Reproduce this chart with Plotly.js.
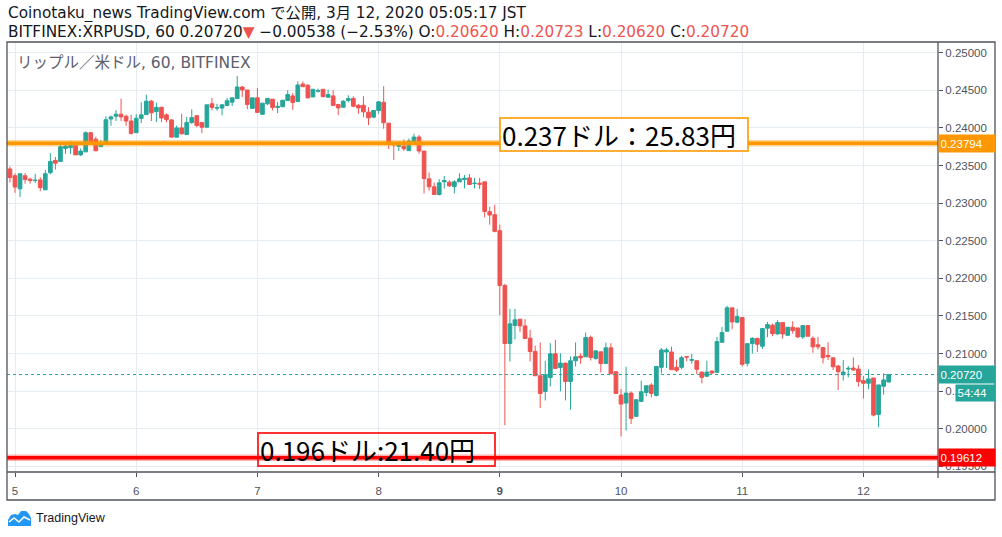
<!DOCTYPE html>
<html><head><meta charset="utf-8">
<script src="https://cdn.plot.ly/plotly-3.0.1.min.js"></script>
<style>html,body{margin:0;padding:0;background:#fff;}#chart{width:1002px;height:537px;}</style>
</head><body><div id="chart"></div>
<script>
// ---- data (hourly candles, BITFINEX XRPUSD, first bar 2020-03-04 23:00) ----
const firstBar = '2020-03-04T23:00:00Z';
const openP = [0.23454,0.23363,0.2319,0.23363,0.23317,0.233,0.23308,0.23176,0.23404,0.23568,0.23554,0.23727,0.23736,0.23768,0.23641,0.23681,0.23936,0.2385,0.2375,0.23809,0.24118,0.24155,0.24182,0.24155,0.24091,0.23936,0.24127,0.24177,0.24355,0.24218,0.24273,0.24173,0.24105,0.23877,0.24,0.23912,0.2407,0.24162,0.2407,0.24009,0.2432,0.24263,0.24263,0.24298,0.24342,0.2439,0.24544,0.24504,0.24259,0.24399,0.2418,0.2432,0.24382,0.24272,0.24281,0.24364,0.24425,0.24351,0.24583,0.24566,0.24412,0.24487,0.24513,0.24408,0.24425,0.2431,0.24275,0.24363,0.2439,0.24301,0.24301,0.24209,0.24143,0.24231,0.24341,0.24063,0.23803,0.23754,0.23759,0.23697,0.2382,0.23878,0.23692,0.23322,0.23216,0.23114,0.23282,0.23278,0.2322,0.23282,0.23313,0.23335,0.2326,0.23264,0.23282,0.22885,0.22845,0.22633,0.21905,0.21133,0.21372,0.21456,0.21367,0.21204,0.21027,0.20704,0.20496,0.20681,0.20996,0.20814,0.20872,0.20628,0.20903,0.20965,0.20956,0.21212,0.20934,0.21022,0.20867,0.21075,0.20757,0.20447,0.20341,0.20473,0.20164,0.20363,0.20482,0.2058,0.20442,0.20816,0.2102,0.2102,0.20816,0.20816,0.20958,0.20909,0.20904,0.20753,0.20696,0.20767,0.20749,0.21149,0.21296,0.21607,0.21416,0.21478,0.20869,0.21131,0.21202,0.21096,0.21336,0.21376,0.2126,0.21411,0.21242,0.21349,0.2134,0.2122,0.21371,0.21203,0.21115,0.21079,0.20974,0.20943,0.20833,0.20718,0.20793,0.20806,0.20793,0.20639,0.20604,0.20674,0.2019,0.20564,0.2062];
const highP = [0.23486,0.23395,0.2339,0.234,0.23336,0.2339,0.23345,0.2344,0.23663,0.23613,0.23782,0.23782,0.23827,0.238,0.23727,0.23955,0.23945,0.23882,0.23841,0.24155,0.24164,0.24237,0.24387,0.24177,0.24173,0.24182,0.24341,0.24441,0.24373,0.24337,0.24282,0.24191,0.24118,0.24031,0.24189,0.24145,0.24246,0.24162,0.2407,0.24307,0.24399,0.2432,0.24307,0.24399,0.24399,0.24689,0.24557,0.24504,0.24399,0.24531,0.24329,0.2439,0.24382,0.24346,0.24368,0.245,0.24461,0.24618,0.24618,0.24583,0.24513,0.24522,0.24513,0.24509,0.245,0.24319,0.24368,0.24434,0.24421,0.24319,0.24421,0.24275,0.24231,0.24354,0.24553,0.24063,0.2382,0.23825,0.23847,0.2386,0.23922,0.23904,0.23692,0.23406,0.23273,0.23317,0.23361,0.23304,0.23304,0.23397,0.23375,0.23388,0.23335,0.23335,0.23282,0.22951,0.22978,0.22713,0.21927,0.21593,0.21593,0.21456,0.21456,0.21314,0.21102,0.21146,0.20903,0.21137,0.21181,0.21004,0.20872,0.2096,0.21146,0.21004,0.21279,0.21239,0.21035,0.21022,0.21146,0.21137,0.20757,0.20527,0.20823,0.20495,0.20385,0.20637,0.20571,0.20606,0.20836,0.21073,0.21073,0.21091,0.20918,0.20971,0.20962,0.20993,0.20904,0.20753,0.20904,0.20767,0.2122,0.21353,0.21633,0.21607,0.21593,0.21487,0.21131,0.21216,0.21202,0.21331,0.2142,0.21398,0.21442,0.21411,0.21349,0.21429,0.2134,0.21371,0.21371,0.21229,0.2122,0.21079,0.2115,0.20943,0.20846,0.20912,0.20833,0.20947,0.20846,0.207,0.20789,0.20674,0.20582,0.20736,0.20723];
const lowP = [0.23272,0.23136,0.23081,0.23258,0.23258,0.23267,0.23158,0.23176,0.23381,0.23445,0.23554,0.23654,0.23654,0.23641,0.23627,0.23681,0.23782,0.23695,0.2375,0.23809,0.24027,0.24091,0.24091,0.24027,0.23909,0.23936,0.24064,0.24177,0.24091,0.24077,0.24077,0.24073,0.23873,0.23873,0.23912,0.23912,0.24053,0.24009,0.2393,0.24009,0.24232,0.24228,0.24167,0.24294,0.2429,0.2439,0.24412,0.2425,0.24259,0.24206,0.2418,0.24303,0.24232,0.24197,0.24276,0.24364,0.24241,0.24351,0.24548,0.2439,0.24408,0.24469,0.24404,0.24399,0.24288,0.24169,0.24266,0.24341,0.24275,0.24187,0.24143,0.24037,0.24134,0.24187,0.23988,0.23719,0.23573,0.23692,0.23692,0.23697,0.23812,0.23657,0.23128,0.23163,0.23114,0.23101,0.23194,0.23216,0.23128,0.23282,0.23194,0.23247,0.23194,0.23185,0.2281,0.22713,0.22611,0.21508,0.20045,0.20894,0.21186,0.21283,0.21199,0.20894,0.20704,0.20274,0.20376,0.20562,0.20801,0.20496,0.20376,0.20252,0.20827,0.20863,0.20956,0.20907,0.20916,0.20748,0.20867,0.2073,0.20465,0.19898,0.19975,0.20062,0.20164,0.20363,0.20429,0.20416,0.20429,0.20736,0.20807,0.20785,0.20753,0.20789,0.20896,0.20864,0.20727,0.20602,0.20696,0.20727,0.20749,0.21149,0.21296,0.21322,0.21402,0.20829,0.20829,0.20998,0.2102,0.2106,0.21216,0.21229,0.21251,0.21198,0.21233,0.21264,0.21207,0.21193,0.21229,0.21009,0.21053,0.20868,0.20912,0.2078,0.20515,0.20639,0.20683,0.20771,0.2056,0.20401,0.20524,0.20163,0.20018,0.20454,0.2062];
const closeP = [0.2334,0.23213,0.2339,0.23313,0.233,0.23304,0.23204,0.2339,0.23554,0.23531,0.2375,0.23759,0.23768,0.23641,0.23691,0.23936,0.23791,0.23695,0.23795,0.24109,0.24146,0.24182,0.24146,0.24091,0.23927,0.24127,0.24173,0.24355,0.242,0.24273,0.24132,0.24109,0.23877,0.24,0.23921,0.2407,0.24136,0.24031,0.24009,0.24307,0.24272,0.24268,0.24307,0.2436,0.24399,0.24544,0.24504,0.24311,0.24399,0.24206,0.24329,0.2439,0.24272,0.24285,0.24368,0.24443,0.24338,0.2457,0.24548,0.24399,0.24513,0.24496,0.24417,0.24443,0.243,0.24266,0.24354,0.2439,0.24288,0.24266,0.24213,0.24134,0.24231,0.24346,0.24068,0.23803,0.23772,0.2379,0.23723,0.23825,0.23878,0.23692,0.23326,0.23216,0.23114,0.23269,0.233,0.23229,0.23282,0.23322,0.2333,0.23247,0.23264,0.23251,0.22889,0.22841,0.22624,0.21905,0.21133,0.21394,0.21447,0.21367,0.21199,0.21027,0.20704,0.20469,0.20717,0.20996,0.20801,0.20872,0.20628,0.20903,0.20956,0.20942,0.21212,0.20947,0.21035,0.20867,0.21075,0.2073,0.20469,0.20327,0.20473,0.20137,0.20385,0.20491,0.20571,0.20469,0.20827,0.21047,0.21047,0.20785,0.20776,0.20944,0.20953,0.20918,0.20789,0.20682,0.20753,0.2074,0.21158,0.21278,0.21607,0.2142,0.21491,0.20856,0.21131,0.21202,0.21122,0.21331,0.21384,0.21264,0.21411,0.2126,0.21349,0.21304,0.2122,0.21371,0.21229,0.21088,0.21088,0.20943,0.20956,0.20824,0.20758,0.20753,0.20802,0.2078,0.20626,0.20604,0.20661,0.20181,0.20582,0.20648,0.2072];

const dayTicks  = ['2020-03-05','2020-03-06','2020-03-07','2020-03-08','2020-03-09','2020-03-10','2020-03-11','2020-03-12'];
const dayLabels = ['5','6','7','8','<b>9</b>','10','11','12'];
const priceTicks = [0.195,0.200,0.205,0.210,0.215,0.220,0.225,0.230,0.235,0.240,0.245,0.250];
const levelPrices = [0.23794, 0.19612];
const levelNotes  = ['0.237ドル：25.83円', '0.196ドル:21.40円'];
const levelColors = ['#ff9800', '#ff0000'];

// hourly timestamps for the bars
const times = openP.map((_, i) => new Date(Date.parse(firstBar) + i * 3600e3).toISOString().slice(0,16).replace('T',' '));
const lastClose = closeP[closeP.length-1];

// ---- layout helpers (pixel -> paper) ----
const PL=7, PR=938, PT=42, PB=472;
const px = x => (x-PL)/(PR-PL);
const py = y => (PB-y)/(PB-PT);

const UP='#26a69a', DOWN='#ef5350', FRAME='#50535e', GRID='#e6edf2';
const trace = {
  type:'candlestick', x:times, open:openP, high:highP, low:lowP, close:closeP,
  increasing:{line:{color:UP,width:1}, fillcolor:UP},
  decreasing:{line:{color:DOWN,width:1}, fillcolor:DOWN},
  whiskerwidth:0, hoverinfo:'skip', showlegend:false
};

const shapes = [
  {type:'line', xref:'paper', x0:0, x1:1, yref:'y', y0:lastClose, y1:lastClose, line:{color:UP, width:1, dash:'dot'}},
  {type:'line', xref:'paper', x0:0, x1:1, yref:'y', y0:levelPrices[0], y1:levelPrices[0], line:{color:'rgba(255,152,0,0.4)', width:6.5}},
  {type:'line', xref:'paper', x0:0, x1:1, yref:'y', y0:levelPrices[0], y1:levelPrices[0], line:{color:levelColors[0], width:3.5}},
  {type:'line', xref:'paper', x0:0, x1:1, yref:'y', y0:levelPrices[1], y1:levelPrices[1], line:{color:'rgba(255,0,0,0.3)', width:6.5}},
  {type:'line', xref:'paper', x0:0, x1:1, yref:'y', y0:levelPrices[1], y1:levelPrices[1], line:{color:levelColors[1], width:3.5}},
  {type:'rect', xref:'paper', yref:'paper', x0:0, x1:px(995), y0:py(500), y1:1, line:{color:FRAME, width:1.3}, layer:'above'},
  {type:'line', xref:'paper', yref:'paper', x0:1, x1:1, y0:py(478), y1:1, line:{color:FRAME, width:1.3}},
  {type:'line', xref:'paper', yref:'paper', x0:0, x1:px(995), y0:0, y1:0, line:{color:FRAME, width:1.3}},
];
const P = (x,y) => px(x)+','+py(y);
shapes.push({type:'path', xref:'paper', yref:'paper',
  path:'M'+P(8,526)+' L'+P(8,520)+' L'+P(11,515)+' L'+P(15,514)+' L'+P(18,515)+' L'+P(21,511)+' L'+P(26,511)+' L'+P(29,514)+' L'+P(31,518)+' L'+P(31,526)+' Z',
  fillcolor:'#2196f3', line:{width:0}});
shapes.push({type:'path', xref:'paper', yref:'paper',
  path:'M'+P(9,522)+' L'+P(14,518)+' L'+P(19,522)+' L'+P(24,517)+' L'+P(30,520),
  line:{color:'#ffffff', width:1.6}});

const HF = 'DejaVu Sans, Noto Sans CJK JP, sans-serif';
const annotations = [
  {xref:'paper', yref:'paper', x:px(6), y:py(13), xanchor:'left', yanchor:'middle', showarrow:false, height:18,
   text:'Coinotaku_news TradingView.com で公開, 3月 12, 2020 05:05:17 JST', font:{family:HF, size:15.3, color:'#131722'}},
  {xref:'paper', yref:'paper', x:px(6), y:py(32), xanchor:'left', yanchor:'middle', showarrow:false, height:18,
   text:'BITFINEX:XRPUSD, 60 '+lastClose.toFixed(5)+'<span style="color:#ef5350">▼</span> −0.00538 (−2.53%) O:<span style="color:#ef5350">'+openP[openP.length-1].toFixed(5)+'</span> H:<span style="color:#ef5350">'+highP[highP.length-1].toFixed(5)+'</span> L:<span style="color:#ef5350">'+lowP[lowP.length-1].toFixed(5)+'</span> C:<span style="color:#ef5350">'+lastClose.toFixed(5)+'</span>',
   font:{family:HF, size:15.3, color:'#131722'}},
  {xref:'paper', yref:'paper', x:px(15), y:py(63), xanchor:'left', yanchor:'middle', showarrow:false,
   text:'リップル／米ドル, 60, BITFINEX', font:{family:HF, size:15.5, color:'#5d606b'}},
  {xref:'paper', yref:'paper', x:px(624), y:py(134.5), xanchor:'center', yanchor:'middle', showarrow:false,
   text:levelNotes[0], font:{family:'Noto Sans CJK JP, sans-serif', size:26, color:'#000'},
   bgcolor:'#ffffff', bordercolor:'rgba(255,152,0,0.8)', borderwidth:2, borderpad:1, width:244, height:29, align:'left'},
  {xref:'paper', yref:'paper', x:px(376.5), y:py(449.5), xanchor:'center', yanchor:'middle', showarrow:false,
   text:levelNotes[1], font:{family:'Noto Sans CJK JP, sans-serif', size:26, color:'#000'},
   bordercolor:'rgba(255,0,0,0.8)', borderwidth:2, borderpad:1, width:233, height:29, align:'left'},
  {xref:'paper', yref:'y', x:1, y:levelPrices[0], xanchor:'left', yanchor:'middle', showarrow:false,
   text:levelPrices[0].toFixed(5), font:{family:'Liberation Sans', size:11.5, color:'#fff'}, bgcolor:levelColors[0], width:53, height:14, borderpad:1.5, align:'left'},
  {xref:'paper', yref:'y', x:1, y:lastClose, xanchor:'left', yanchor:'middle', showarrow:false,
   text:lastClose.toFixed(5), font:{family:'Liberation Sans', size:11.5, color:'#fff'}, bgcolor:UP, width:53, height:14, borderpad:1.5, align:'left'},
  {xref:'paper', yref:'y', x:px(955), y:lastClose, xanchor:'left', yanchor:'middle', showarrow:false, yshift:-18,
   text:'54:44', font:{family:'Liberation Sans', size:11.5, color:'#fff'}, bgcolor:UP, width:36, height:13, borderpad:1.5, align:'left'},
  {xref:'paper', yref:'y', x:1, y:levelPrices[1], xanchor:'left', yanchor:'middle', showarrow:false,
   text:levelPrices[1].toFixed(5), font:{family:'Liberation Sans', size:11.5, color:'#fff'}, bgcolor:levelColors[1], width:53, height:14, borderpad:1.5, align:'left'},
  {xref:'paper', yref:'paper', x:px(34), y:py(518), xanchor:'left', yanchor:'middle', showarrow:false,
   text:'TradingView', font:{family:'Liberation Sans', size:12.5, color:'#131722'}},
];

const layout = {
  width:1002, height:537,
  margin:{l:PL, r:1002-PR, t:PT, b:537-PB, pad:0},
  paper_bgcolor:'#ffffff', plot_bgcolor:'#ffffff',
  showlegend:false, dragmode:false,
  boxgap:0.27, boxgroupgap:0,
  xaxis:{type:'date', range:['2020-03-04 22:25','2020-03-12 14:46'], rangeslider:{visible:false},
    tickmode:'array', tickvals:dayTicks, ticktext:dayLabels,
    showgrid:true, gridcolor:GRID, gridwidth:1, zeroline:false, showline:false,
    ticks:'outside', ticklen:4, tickcolor:FRAME, ticklabelstandoff:4,
    tickfont:{family:'Liberation Sans', size:11.5, color:'#50535e'}},
  yaxis:{side:'right', range:[0.19424,0.25142], tickmode:'array', tickvals:priceTicks, tickformat:'.5f',
    showgrid:true, gridcolor:GRID, gridwidth:1, zeroline:false, showline:false,
    ticks:'outside', ticklen:4, tickcolor:FRAME,
    tickfont:{family:'Liberation Sans', size:11.5, color:'#50535e'}},
  shapes, annotations
};

Plotly.newPlot('chart', [trace], layout, {staticPlot:true, displayModeBar:false});
</script></body></html>
